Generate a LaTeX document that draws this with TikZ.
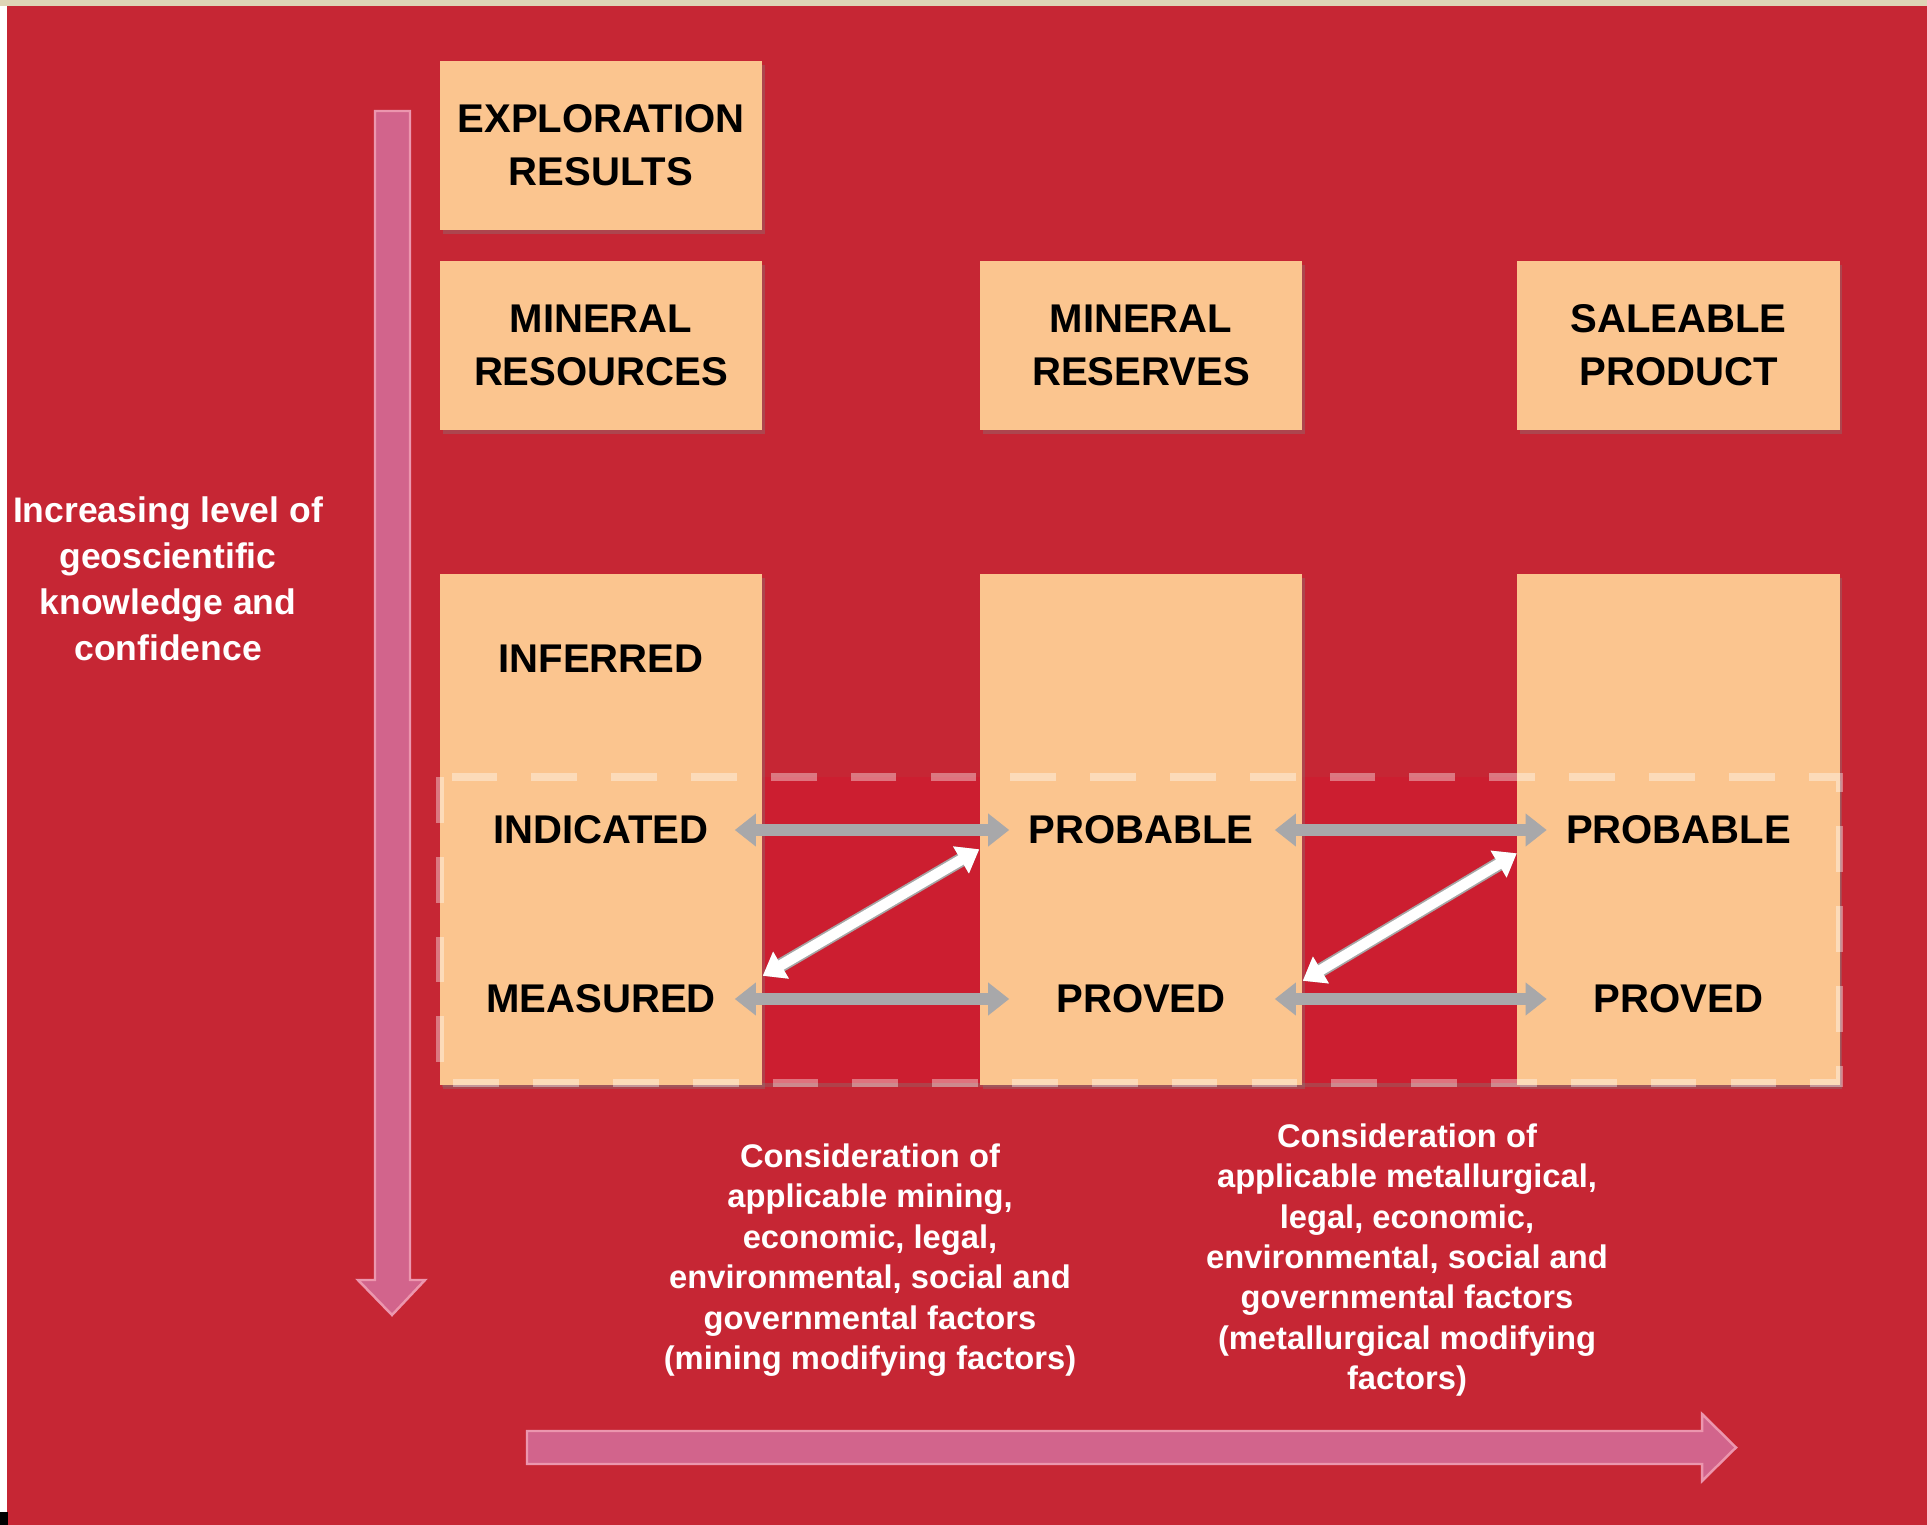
\documentclass[tikz,border=0pt]{standalone}
\usepackage{fontspec}
\setmainfont{Liberation Sans}
\usetikzlibrary{arrows.meta}
\usetikzlibrary{shadows}
\definecolor{bgred}{RGB}{198,38,52}
\definecolor{bandred}{RGB}{204,30,48}
\definecolor{peach}{RGB}{251,197,143}
\definecolor{pinkarrow}{RGB}{210,100,140}
\definecolor{pinkedge}{RGB}{236,150,174}
\definecolor{greyarrow}{RGB}{168,168,170}
\definecolor{scanbeige}{RGB}{222,212,182}
\tikzset{
  box/.style={fill=peach, minimum width=3.22cm, minimum height=1.69cm, inner sep=0pt, align=center,
    font=\fontsize{11.4}{15.1}\selectfont\bfseries,
    drop shadow={shadow xshift=0.8pt, shadow yshift=-1.2pt, opacity=0.35}},
  rowlab/.style={minimum width=3.22cm, inner sep=0pt, font=\fontsize{11.4}{15.1}\selectfont\bfseries},
  whitetext/.style={text=white, align=center, inner sep=0pt, font=\fontsize{9.3}{11.5}\selectfont\bfseries},
  dashline/.style={draw=white, draw opacity=0.38, line width=2pt, dash pattern=on 13pt off 9.7pt},
  greyconn/.style={draw=greyarrow, line width=3.4pt,
    {Triangle[length=6pt,width=9pt]}-{Triangle[length=6pt,width=9pt]},
    shorten <=-0.28cm, shorten >=-0.3cm},
  whiteconn/.style={draw=white, line width=3pt,
    {Triangle[length=6pt,width=8.5pt]}-{Triangle[length=6pt,width=8.5pt]},
    preaction={draw=gray!70, line width=4pt}},
  bigarrow/.style={fill=pinkarrow, draw=pinkedge, line width=0.7pt, line join=miter}
}
\begin{document}
\begin{tikzpicture}[x=0.01cm, y=-0.01cm]
  \fill[bgred] (0,0) rectangle (1927,1525);
  \fill[scanbeige] (0,0) rectangle (1927,6);
  \fill[white] (0,6) rectangle (7,1525);
  \fill[black] (0,1512) rectangle (8,1525);

  \path[fill=bandred, drop shadow={shadow xshift=0.6pt, shadow yshift=-1pt, opacity=0.3}] (440,777) rectangle (1839,1083);

  \node[box] (expl) at (601,145.5) {EXPLORATION\\RESULTS};
  \node[box] (res) at (601,345.5) {MINERAL\\RESOURCES};
  \node[box] (resv) at (1141,345.5) {MINERAL\\RESERVES};
  \node[box] (sale) at (1678.5,345.5) {SALEABLE\\PRODUCT};

  \node[box, minimum height=5.11cm] (resbig) at (601,829.5) {};
  \node[box, minimum height=5.11cm] (resvbig) at (1141,829.5) {};
  \node[box, minimum height=5.11cm] (salebig) at (1678.5,829.5) {};

  \draw[dashline] (440,777) rectangle (1839,1083);

  \node[rowlab] (inf) at (601,659) {INFERRED};
  \node[rowlab] (ind) at (601,830) {INDICATED};
  \node[rowlab] (meas) at (601,999) {MEASURED};
  \node[rowlab] (prob) at (1141,830) {PROBABLE};
  \node[rowlab] (prov) at (1141,999) {PROVED};
  \node[rowlab] (sprob) at (1678.5,830) {PROBABLE};
  \node[rowlab] (sprov) at (1678.5,999) {PROVED};

  \draw[greyconn] (ind.east) -- (prob.west);
  \draw[greyconn] (meas.east) -- (prov.west);
  \draw[greyconn] (prob.east) -- (sprob.west);
  \draw[greyconn] (prov.east) -- (sprov.west);

  \draw[whiteconn] ([yshift=1.1cm]resbig.south east) -- ([yshift=-2.76cm]resvbig.north west);
  \draw[whiteconn] ([yshift=1.05cm]resvbig.south east) -- ([yshift=-2.8cm]salebig.north west);

  \fill[bigarrow] (375,111) -- (410,111) -- (410,1280) -- (425,1280) -- (392,1315) -- (358,1280) -- (375,1280) -- cycle;
  \fill[bigarrow] (527,1431) -- (1702,1431) -- (1702,1414) -- (1736,1447.5) -- (1702,1481) -- (1702,1464) -- (527,1464) -- cycle;

  \node[whitetext, font=\fontsize{10.1}{13.1}\selectfont\bfseries] (know) at (168,579)
    {Increasing level of\\geoscientific\\knowledge and\\confidence};
  \node[whitetext] (mining) at (870,1260)
    {Consideration of\\applicable mining,\\economic, legal,\\environmental, social and\\governmental factors\\(mining modifying factors)};
  \node[whitetext] (metal) at (1407,1260)
    {Consideration of\\applicable metallurgical,\\legal, economic,\\environmental, social and\\governmental factors\\(metallurgical modifying\\factors)};
\end{tikzpicture}
\end{document}
